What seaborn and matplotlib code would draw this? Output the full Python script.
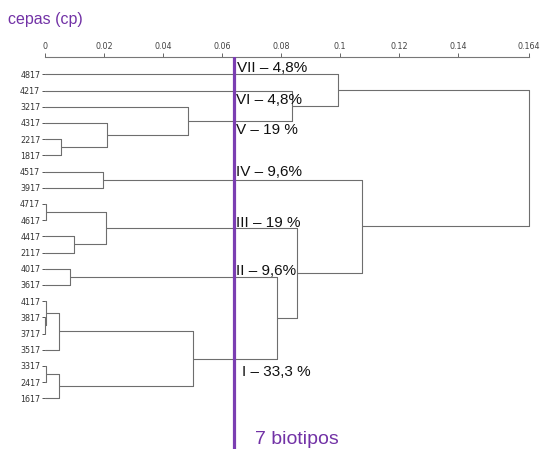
import matplotlib
matplotlib.use("Agg")
import matplotlib.pyplot as plt
import numpy as np
import pandas as pd
import seaborn as sns

# Strains in dendrogram order, top to bottom
strains = ['4817', '4217', '3217', '4317', '2217', '1817', '4517', '3917',
           '4717', '4617', '4417', '2117', '4017', '3617', '4117', '3817',
           '3717', '3517', '3317', '2417', '1617']

# Agglomeration steps: ids below 21 are strains, id 21 + k is the cluster made at step k
merge_left = [4, 3, 2, 1, 0, 6, 8, 10, 27, 12, 15, 14, 32, 18, 34, 33, 30, 29, 26, 25]
merge_right = [5, 21, 22, 23, 24, 7, 9, 11, 28, 13, 16, 31, 17, 19, 20, 35, 36, 37, 38, 39]
merge_height = [0.0054, 0.0209, 0.0484, 0.0837, 0.0993, 0.0196, 0.0002, 0.0098, 0.0207,
                0.0085, 0.0001, 0.0002, 0.0049, 0.0002, 0.0047, 0.0503, 0.0786, 0.0853,
                0.1075, 0.164]

# Distance axis ticks
tick_values = [0, 0.02, 0.04, 0.06, 0.08, 0.1, 0.12, 0.14, 0.164]
tick_labels = ['0', '0.02', '0.04', '0.06', '0.08', '0.1', '0.12', '0.14', '0.164']

# Cut level and resulting biotypes
cut_height = 0.064
group_names = ['VII', 'VI', 'V', 'IV', 'III', 'II', 'I']
group_share = ['4,8%', '4,8%', '19 %', '9,6%', '19 %', '9,6%', '33,3 %']
n_biotypes = 7

sns.set_style("white")
plt.rcParams['font.family'] = ['DejaVu Sans']

W, H = 551, 449
fig = plt.figure(figsize=(W / 100, H / 100), dpi=100)

# axis frame: distance 0 at x=45px, 0.164 at x=529px; top axis line at y=57px
leaf_top_px, leaf_step_px = 74.3, 16.2
ax = fig.add_axes([45 / W, 0, 484 / W, (H - 57) / H])

# build the elbow segments of the dendrogram
n = len(strains)
ypos = {i: float(i) for i in range(n)}
xpos = {i: 0.0 for i in range(n)}
rows = []
seg = 0
for k, (a, b, h) in enumerate(zip(merge_left, merge_right, merge_height)):
    ya, yb = ypos[a], ypos[b]
    for xs, ys in (((xpos[a], h), (ya, ya)), ((xpos[b], h), (yb, yb)), ((h, h), (ya, yb))):
        rows.append(dict(seg=seg, x=xs[0], y=ys[0]))
        rows.append(dict(seg=seg, x=xs[1], y=ys[1]))
        seg += 1
    ypos[n + k] = (ya + yb) / 2
    xpos[n + k] = h
segments = pd.DataFrame(rows)

sns.lineplot(data=segments, x='x', y='y', units='seg', estimator=None, sort=False,
             color='#6e6e6e', linewidth=0.8, ax=ax, clip_on=False)

ax.set_xlim(0, 0.164)
ax.set_ylim((H - leaf_top_px) / leaf_step_px, (57 - leaf_top_px) / leaf_step_px)
ax.set_xlabel('')
ax.set_ylabel('')

# distance axis on top
ax.xaxis.tick_top()
ax.set_xticks(tick_values)
ax.set_xticklabels(tick_labels)
ax.tick_params(axis='x', direction='out', length=3, width=0.7, color='#666666',
               labelsize=5.8, labelcolor='#444444', pad=1.5, top=True, bottom=False)

# strain labels on the left
ax.set_yticks(range(n))
ax.set_yticklabels(strains)
ax.tick_params(axis='y', direction='out', length=2.2, width=0.7, color='#555555',
               labelsize=5.8, labelcolor='#333333', pad=1.2, left=True)

for s in ['left', 'right', 'bottom']:
    ax.spines[s].set_visible(False)
ax.spines['top'].set_color('#777777')
ax.spines['top'].set_linewidth(0.8)

purple = '#7232a6'
ax.axvline(cut_height, color='#7b3eb2', linewidth=2.3, zorder=5)

# biotype annotations next to the cut line
label_font = ['Liberation Sans', 'DejaVu Sans']
label_baseline_px = [71.8, 103.8, 134.2, 175.5, 227.0, 275.0, 376.0]
label_left_px = [236.5, 236.0, 236.0, 236.0, 236.0, 236.0, 241.7]
for name, share, by, lx in zip(group_names, group_share, label_baseline_px, label_left_px):
    ax.text((lx - 45) / 2950, (by - leaf_top_px) / leaf_step_px, f'{name} \u2013 {share}',
            fontsize=11, family=label_font, color='#111111', ha='left', va='baseline',
            zorder=6, clip_on=False)

fig.text(255 / W, 1 - 444 / H, f'{n_biotypes} biotipos', fontsize=14, family=label_font,
         color=purple, ha='left', va='baseline')
fig.text(8 / W, 1 - 24.3 / H, 'cepas (cp)', fontsize=11.5, family=label_font,
         color=purple, ha='left', va='baseline')

fig.savefig('out.png', dpi=100)
